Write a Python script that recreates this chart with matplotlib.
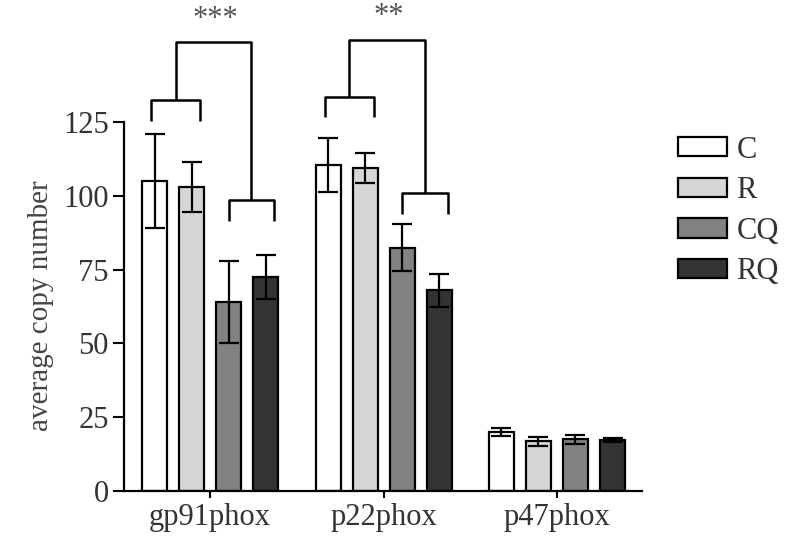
import numpy as np
import matplotlib
matplotlib.use("Agg")
import matplotlib.pyplot as plt

genes = ["gp91phox", "p22phox", "p47phox"]
groups = ["C", "R", "CQ", "RQ"]
means = {
    "C":  [105, 110.5, 20],
    "R":  [103, 109.5, 16.8],
    "CQ": [64, 82.5, 17.5],
    "RQ": [72.5, 68, 17.3],
}
errs = {
    "C":  [16, 9, 1.5],
    "R":  [8.5, 5, 1.5],
    "CQ": [14, 8, 1.6],
    "RQ": [7.5, 5.5, 0.8],
}
colors = {"C": "#ffffff", "R": "#d6d6d6", "CQ": "#828282", "RQ": "#333333"}
# significance brackets: (gene index, stars, pair height, low pair height, top height)
sig = [(0, "***", 132.5, 98.6, 152), (1, "**", 133.6, 101, 153)]

plt.rcParams["font.family"] = ["Liberation Serif", "DejaVu Serif"]

fig = plt.figure(figsize=(7.9, 5.48), dpi=100)
ax = fig.add_axes([124 / 790, 57 / 548, 518 / 790, 491 / 548])

x = np.arange(len(genes))
pitch = 0.2133
width = 0.144
offsets = (np.arange(4) - 1.5) * pitch

for k, g in enumerate(groups):
    ax.bar(x + offsets[k], means[g], width, color=colors[g], edgecolor="black",
           linewidth=1.6, label=g, zorder=2)
    ax.errorbar(x + offsets[k], means[g], yerr=errs[g], fmt="none", ecolor="black",
                elinewidth=1.6, capsize=7, capthick=1.6, zorder=3)

lw = 1.8
for gi, stars, h_pair, h_low, h_top in sig:
    c = gi + offsets
    l1, r1 = c[0] - 0.02, c[1] + 0.05
    l2, r2 = c[2] + 0.0, c[3] + 0.05
    leg = 7
    ax.plot([l1, l1, r1, r1], [h_pair - leg, h_pair, h_pair, h_pair - leg],
            color="black", lw=lw, clip_on=False, solid_capstyle="butt")
    ax.plot([l2, l2, r2, r2], [h_low - leg, h_low, h_low, h_low - leg],
            color="black", lw=lw, clip_on=False, solid_capstyle="butt")
    m1, m2 = (l1 + r1) / 2, (l2 + r2) / 2
    ax.plot([m1, m1, m2, m2], [h_pair, h_top, h_top, h_low],
            color="black", lw=lw, clip_on=False, solid_capstyle="butt")
    ax.text((m1 + m2) / 2 + 0.01, h_top + 3, stars, ha="center", va="bottom",
            fontsize=22, color="#555555")

ax.set_xlim(-0.496, 2.49)
ax.set_ylim(0, 166.4)
ax.spines["top"].set_visible(False)
ax.spines["right"].set_visible(False)
ax.spines["left"].set_bounds(0, 125)
ax.spines["left"].set_linewidth(1.6)
ax.spines["bottom"].set_linewidth(1.6)
ax.set_yticks([0, 25, 50, 75, 100, 125])
ax.set_xticks(x)
ax.set_xticklabels(genes)
ax.tick_params(axis="y", length=8, width=1.5, labelsize=22, pad=3, labelcolor="#333333")
ax.tick_params(axis="x", length=5, width=1.5, labelsize=22, pad=4, labelcolor="#333333")
ax.set_ylabel("average copy number", fontsize=21, color="#444444")
ax.yaxis.set_label_coords(-0.135, 0.377)

leg = ax.legend(loc="upper left", bbox_to_anchor=(1.017, 0.78), frameon=False,
                fontsize=22, handlelength=1.6, handleheight=0.6, handletextpad=0.3,
                labelspacing=0.38)
for t in leg.get_texts():
    t.set_color("#333333")

fig.savefig("out.png", dpi=100)
